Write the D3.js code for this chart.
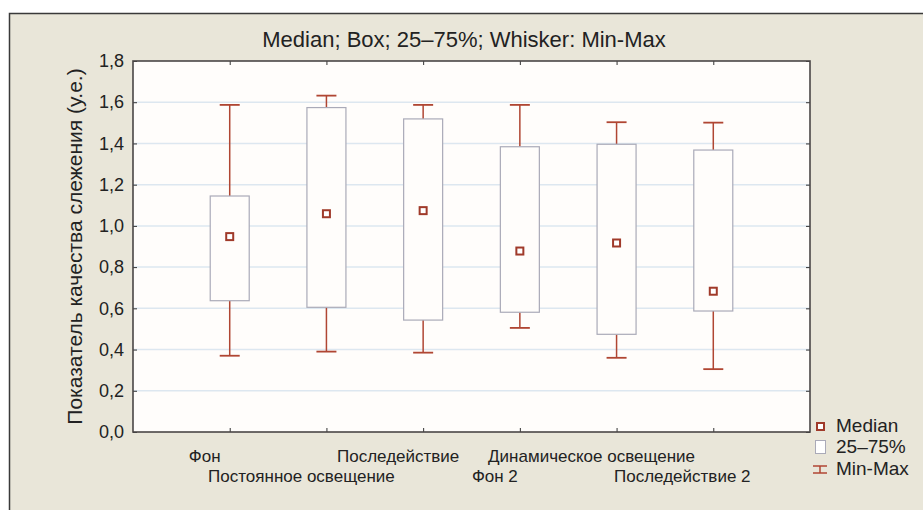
<!DOCTYPE html>
<html>
<head>
<meta charset="utf-8">
<script src="https://cdn.jsdelivr.net/npm/d3@7"></script>
<style>
  html, body { margin: 0; padding: 0; background: #ffffff; }
  svg { display: block; font-family: "Liberation Sans", Arial, sans-serif; }
</style>
</head>
<body>
<div id="chart"></div>
<script>
// Box plot data
const categories = ['Фон', 'Постоянное освещение', 'Последействие', 'Фон 2', 'Динамическое освещение', 'Последействие 2'];
const minValues = [0.37, 0.39, 0.385, 0.505, 0.36, 0.305];
const q1Values = [0.637, 0.605, 0.543, 0.581, 0.474, 0.587];
const medianValues = [0.948, 1.059, 1.074, 0.878, 0.917, 0.683];
const q3Values = [1.145, 1.574, 1.519, 1.384, 1.396, 1.368];
const maxValues = [1.587, 1.632, 1.587, 1.587, 1.503, 1.501];
const yTicks = [0, 0.2, 0.4, 0.6, 0.8, 1.0, 1.2, 1.4, 1.6, 1.8];

const title = 'Median; Box; 25–75%; Whisker: Min-Max';
const yTitle = 'Показатель качества слежения (у.е.)';
const legendLabels = ['Median', '25–75%', 'Min-Max'];

const width = 923, height = 510;
const margin = { top: 61, right: 113, bottom: 78, left: 133 };

const red = '#b04633';
const redDark = '#a03a2a';

const rows = categories.map((c, i) => ({
  cat: c, min: minValues[i], q1: q1Values[i], med: medianValues[i], q3: q3Values[i], max: maxValues[i], i
}));

const svg = d3.select('#chart').append('svg')
  .attr('width', width)
  .attr('height', height);

// panel
svg.append('rect')
  .attr('x', 9.5).attr('y', 13.5)
  .attr('width', width).attr('height', height)
  .attr('fill', '#e9e6d9')
  .attr('stroke', '#3a3a3a')
  .attr('stroke-width', 1.5);

const x = d3.scalePoint()
  .domain(categories)
  .range([margin.left, width - margin.right])
  .padding(1);

const y = d3.scaleLinear()
  .domain([0, 1.8])
  .range([height - margin.bottom, margin.top]);

const plotW = width - margin.right - margin.left;
const plotH = height - margin.bottom - margin.top;

svg.append('rect')
  .attr('x', margin.left).attr('y', margin.top)
  .attr('width', plotW).attr('height', plotH)
  .attr('fill', '#fffdfb');

// grid
svg.append('g')
  .selectAll('line')
  .data(yTicks.slice(1, -1))
  .enter()
  .append('line')
  .attr('x1', margin.left).attr('x2', width - margin.right)
  .attr('y1', d => y(d)).attr('y2', d => y(d))
  .attr('stroke', '#dde7f0')
  .attr('stroke-width', 1.5);

// Y axis
const yAxis = svg.append('g')
  .attr('transform', `translate(${margin.left},0)`)
  .call(d3.axisLeft(y).tickValues(yTicks).tickSize(-4).tickPadding(9)
    .tickFormat(d => d3.format('.1f')(d).replace('.', ',')));
yAxis.selectAll('text')
  .attr('fill', '#222')
  .attr('font-size', '18px');
yAxis.select('.domain').remove();
yAxis.selectAll('.tick line').attr('stroke', '#333');

// right ticks
svg.append('g')
  .attr('transform', `translate(${width - margin.right},0)`)
  .call(d3.axisRight(y).tickValues(yTicks).tickSize(-4).tickFormat(''))
  .call(g => g.select('.domain').remove())
  .selectAll('.tick line').attr('stroke', '#333');

// bottom / top ticks
svg.append('g')
  .attr('transform', `translate(0,${height - margin.bottom})`)
  .call(d3.axisBottom(x).tickSize(-4).tickFormat(''))
  .call(g => g.select('.domain').remove())
  .selectAll('.tick line').attr('stroke', '#333');
svg.append('g')
  .attr('transform', `translate(0,${margin.top})`)
  .call(d3.axisTop(x).tickSize(-4).tickFormat(''))
  .call(g => g.select('.domain').remove())
  .selectAll('.tick line').attr('stroke', '#333');

// category labels, staggered on two rows
svg.append('g')
  .selectAll('text')
  .data(categories)
  .enter()
  .append('text')
  .attr('x', (d, i) => x(d) - (i === 5 ? 31 : 25))
  .attr('y', (d, i) => i % 2 === 0 ? 462 : 482)
  .attr('text-anchor', 'middle')
  .attr('font-size', '17px')
  .attr('fill', '#222')
  .text(d => d);

// boxes
const boxW = 39, capW = 20;
const g = svg.append('g');

g.selectAll('.whisker-hi')
  .data(rows).enter().append('line')
  .attr('x1', d => x(d.cat)).attr('x2', d => x(d.cat))
  .attr('y1', d => y(d.q3)).attr('y2', d => y(d.max))
  .attr('stroke', red).attr('stroke-width', 1.5);
g.selectAll('.whisker-lo')
  .data(rows).enter().append('line')
  .attr('x1', d => x(d.cat)).attr('x2', d => x(d.cat))
  .attr('y1', d => y(d.q1)).attr('y2', d => y(d.min))
  .attr('stroke', red).attr('stroke-width', 1.5);
g.selectAll('.cap-hi')
  .data(rows).enter().append('line')
  .attr('x1', d => x(d.cat) - capW / 2).attr('x2', d => x(d.cat) + capW / 2)
  .attr('y1', d => y(d.max)).attr('y2', d => y(d.max))
  .attr('stroke', red).attr('stroke-width', 1.8);
g.selectAll('.cap-lo')
  .data(rows).enter().append('line')
  .attr('x1', d => x(d.cat) - capW / 2).attr('x2', d => x(d.cat) + capW / 2)
  .attr('y1', d => y(d.min)).attr('y2', d => y(d.min))
  .attr('stroke', red).attr('stroke-width', 1.8);

g.selectAll('.box')
  .data(rows).enter().append('rect')
  .attr('x', d => x(d.cat) - boxW / 2)
  .attr('width', boxW)
  .attr('y', d => y(d.q3))
  .attr('height', d => y(d.q1) - y(d.q3))
  .attr('fill', '#fffdfb')
  .attr('stroke', '#aaaab8')
  .attr('stroke-width', 1.2);

g.selectAll('.median')
  .data(rows).enter().append('rect')
  .attr('x', d => x(d.cat) - 3.5)
  .attr('y', d => y(d.med) - 3.5)
  .attr('width', 7).attr('height', 7)
  .attr('fill', '#fff')
  .attr('stroke', redDark)
  .attr('stroke-width', 2);

// plot frame
svg.append('rect')
  .attr('x', margin.left).attr('y', margin.top)
  .attr('width', plotW).attr('height', plotH)
  .attr('fill', 'none')
  .attr('stroke', '#4a4646')
  .attr('stroke-width', 1.6);

// title
svg.append('text')
  .attr('x', 464).attr('y', 47)
  .attr('text-anchor', 'middle')
  .attr('font-size', '22px')
  .attr('fill', '#222')
  .text(title);

// y title
svg.append('text')
  .attr('transform', `translate(82,${margin.top + plotH / 2}) rotate(-90)`)
  .attr('text-anchor', 'middle')
  .attr('font-size', '21px')
  .attr('fill', '#222')
  .text(yTitle);

// legend
const leg = svg.append('g');
leg.append('rect')
  .attr('x', 817).attr('y', 423).attr('width', 7).attr('height', 7)
  .attr('fill', '#fff').attr('stroke', redDark).attr('stroke-width', 2);
leg.append('rect')
  .attr('x', 815.5).attr('y', 440.5).attr('width', 10).attr('height', 13)
  .attr('fill', '#fff').attr('stroke', '#aaaab8');
leg.append('line').attr('x1', 813).attr('x2', 827).attr('y1', 466).attr('y2', 466)
  .attr('stroke', red).attr('stroke-width', 1.5);
leg.append('line').attr('x1', 813).attr('x2', 827).attr('y1', 473).attr('y2', 473)
  .attr('stroke', red).attr('stroke-width', 1.5);
leg.append('line').attr('x1', 820).attr('x2', 820).attr('y1', 466).attr('y2', 473)
  .attr('stroke', red).attr('stroke-width', 1.5);

leg.selectAll('text')
  .data(legendLabels)
  .enter()
  .append('text')
  .attr('x', 836)
  .attr('y', (d, i) => [432, 453, 475][i])
  .attr('font-size', '19px')
  .attr('fill', '#222')
  .text(d => d);
</script>
</body>
</html>
